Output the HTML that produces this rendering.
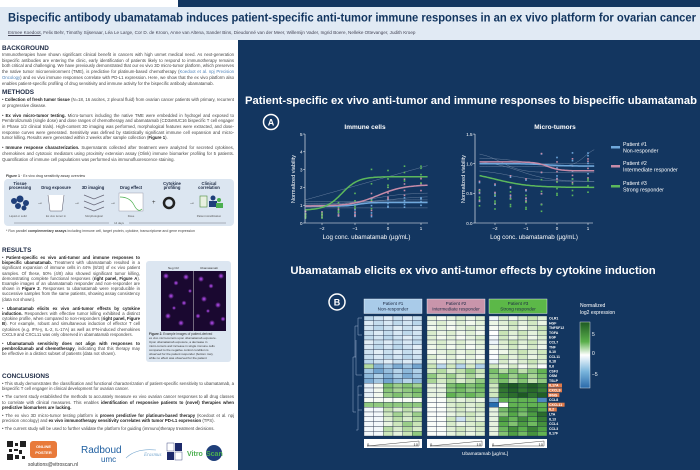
<!DOCTYPE html>
<html><head><meta charset="utf-8">
<style>
*{margin:0;padding:0;box-sizing:border-box}
body{width:700px;height:470px;overflow:hidden;background:#fff;font-family:"Liberation Sans",sans-serif;position:relative}
.abs{position:absolute}
.lt{font-size:4.3px;line-height:5.7px;color:#444;text-align:justify}
.lt b{color:#222}
.h{font-weight:bold;font-size:6.4px;color:#1d2a44}
</style></head><body>
<div class="abs" style="left:178px;top:0;width:522px;height:7px;background:#133660"></div>
<div class="abs" style="left:0;top:7px;width:700px;height:33px;background:#e1eaf4"></div>
<svg class="abs" style="left:0;top:7px" width="700" height="20"><text x="8" y="14.5" font-family="Liberation Sans" font-weight="bold" font-size="12.2" fill="#133660" textLength="688" lengthAdjust="spacingAndGlyphs">Bispecific antibody ubamatamab induces patient-specific anti-tumor immune responses in an ex vivo platform for ovarian cancer</text></svg>
<div class="abs" style="left:8px;top:30px;font-size:4.6px;color:#445;white-space:nowrap"><u>Esmee Koedoot</u>, Felix Behr, Timothy Sijsenaar, Léa Le Large, Cor D. de Kroon, Anne van Altena, Sander Bins, Dieudonné van der Meer, Willemijn Vader, Ingrid Boere, Nelleke Ottevanger, Judith Kroep</div>
<div class="abs" style="left:238px;top:40px;width:462px;height:430px;background:#133660"></div>

<!-- left column -->
<div class="abs" style="left:2px;top:45px;width:232px">
<div class="h">BACKGROUND</div>
<div class="lt">Immunotherapies have shown significant clinical benefit in cancers with high unmet medical need. As next-generation bispecific antibodies are entering the clinic, early identification of patients likely to respond to immunotherapy remains both critical and challenging. We have previously demonstrated that our ex vivo 3D micro-tumor platform, which preserves the native tumor microenvironment (TME), is predictive for platinum-based chemotherapy (<span style="color:#4a7fb5">Koedoot et al. npj Precision Oncology</span>) and ex vivo immune responses correlate with PD-L1 expression. Here, we show that the ex vivo platform also enables patient-specific profiling of drug sensitivity and immune activity for the bispecific antibody ubamatamab.</div>
<div class="h" style="margin-top:3px">METHODS</div>
<div class="lt" style="margin-top:1px">• <b>Collection of fresh tumor tissue</b> (N=18, 16 ascites, 2 pleural fluid) from ovarian cancer patients with primary, recurrent or progressive disease.</div>
<div class="lt" style="margin-top:4px">• <b>Ex vivo micro-tumor testing.</b> Micro-tumors including the native TME were embedded in hydrogel and exposed to Pembrolizumab (single dose) and dose ranges of chemotherapy and ubamatamab (CD3xMUC16 bispecific T cell engager in Phase 1/2 clinical trials). High-content 3D imaging was performed, morphological features were extracted, and dose-response curves were generated. Sensitivity was defined by statistically significant immune cell expansion and micro-tumor killing. Results were generated within 2 weeks after sample collection (<b>Figure 1</b>).</div>
<div class="lt" style="margin-top:4px">• <b>Immune response characterization.</b> Supernatants collected after treatment were analyzed for secreted cytokines, chemokines and cytotoxic mediators using proximity extension assay (Olink) immune biomarker profiling for 5 patients. Quantification of immune cell populations was performed via immunofluorescence staining.</div>
</div>
<div class="abs" style="left:6px;top:174px;font-size:3.6px;color:#333"><b>Figure 1</b> · Ex vivo drug sensitivity assay overview</div>
<div class="abs" style="left:4px;top:179px;width:230px;height:47px;background:#dce6f1;border-radius:4px"></div>
<svg class="abs" style="left:4px;top:179px" width="230" height="48">
<g font-family="Liberation Sans" font-size="4.2" font-weight="bold" fill="#1d2a44" text-anchor="middle">
<text x="16" y="6">Tissue</text><text x="16" y="10">processing</text>
<text x="52" y="10">Drug exposure</text><text x="89" y="10">3D imaging</text>
<text x="127" y="10">Drug effect</text><text x="168" y="6">Cytokine</text><text x="168" y="10">profiling</text>
<text x="205" y="6">Clinical</text><text x="205" y="10">correlation</text></g>
<g fill="#1f3f7a"><circle cx="10" cy="22" r="3"/><circle cx="16" cy="20" r="3.5"/><circle cx="22" cy="24" r="3"/><circle cx="14" cy="27" r="3"/><circle cx="20" cy="29" r="2.5"/></g>
<path d="M44 16 L46 32 L58 32 L60 16" fill="#fff" stroke="#556" stroke-width=".5"/>
<path d="M80 16 l10 4 l10 -4 M80 22 l10 4 l10 -4 M80 28 l10 4 l10 -4" stroke="#667" fill="none" stroke-width=".7"/>
<rect x="115" y="14" width="24" height="18" fill="#fff" stroke="#889" stroke-width=".4"/>
<path d="M116 18 q10 0 14 8 t8 4" stroke="#4caf50" fill="none" stroke-width=".7"/>
<circle cx="165" cy="24" r="5" fill="none" stroke="#222" stroke-width="2.5"/>
<rect x="196" y="17" width="7" height="11" fill="#e8f0e0" stroke="#4a8a3a" stroke-width=".6"/>
<circle cx="209" cy="19" r="2.5" fill="#1f3f7a"/><rect x="205" y="22" width="8" height="6" fill="#1f3f7a"/>
<circle cx="215" cy="21" r="2" fill="#4caf50"/><rect x="212" y="24" width="7" height="5" fill="#4caf50"/>
<g font-size="6" fill="#333"><text x="33" y="25">→</text><text x="70" y="25">→</text><text x="106" y="25">→</text><text x="148" y="25">+</text><text x="185" y="25">→</text></g>
<g font-family="Liberation Sans" font-size="2.8" fill="#555" text-anchor="middle"><text x="14" y="38">Liquid or solid</text><text x="52" y="38">Ex vivo tumor in</text><text x="90" y="38">Morphological</text><text x="127" y="38">Dose</text><text x="205" y="38">Patient stratification</text><text x="115" y="45">14 days</text></g>
<line x1="10" y1="44" x2="105" y2="44" stroke="#556" stroke-width=".4"/><line x1="125" y1="44" x2="222" y2="44" stroke="#556" stroke-width=".4"/>
</svg>
<div class="abs" style="left:6px;top:229px;font-size:3.5px;color:#444">* Run parallel <b>complementary assays</b> including immune cell, target protein, cytokine, transcriptome and gene expression</div>

<div class="abs" style="left:2px;top:247px;width:138px">
<div class="h">RESULTS</div>
<div class="lt" style="margin-top:1px;line-height:5.2px">• <b>Patient-specific ex vivo anti-tumor and immune responses to bispecific ubamatamab.</b> Treatment with ubamatamab resulted in a significant expansion of immune cells in 44% (8/18) of ex vivo patient samples. Of these, 50% (4/8) also showed significant tumor killing, demonstrating complete functional responses (<b>right panel, Figure A</b>). Example images of an ubamatamab responder and non-responder are shown in <b>Figure 2</b>. Responses to ubamatamab were reproducible in successive samples from the same patients, showing assay consistency (data not shown).</div>
<div class="lt" style="margin-top:4px;line-height:5.2px">• <b>Ubamatamab elicits ex vivo anti-tumor effects by cytokine induction.</b> Responders with effective tumor killing exhibited a distinct cytokine profile, when compared to non-responders (<b>right panel, Figure B</b>). For example, robust and simultaneous induction of effector T cell cytokines (e.g. IFN-γ, IL-2, IL-17A) as well as IFN-induced chemokines CXCL9 and CXCL11 was only observed in ubamatamab responders.</div>
<div class="lt" style="margin-top:4px;line-height:5.2px">• <b>Ubamatamab sensitivity does not align with responses to pembrolizumab and chemotherapy</b>, indicating that this therapy may be effective in a distinct subset of patients (data not shown).</div>
</div>
<div class="abs" style="left:146px;top:261px;width:85px;height:101px;background:#dce6f1;border-radius:3px"></div>
<svg class="abs" style="left:146px;top:261px" width="85" height="101">
<defs><radialGradient id="g"><stop offset="0" stop-color="#c050ff"/><stop offset="1" stop-color="#c050ff" stop-opacity="0"/></radialGradient></defs>
<rect x="15" y="10" width="65" height="60" fill="#1a0830"/>
<line x1="47.5" y1="10" x2="47.5" y2="70" stroke="#ccc" stroke-width=".5"/>
<g fill="url(#g)">
<circle cx="20" cy="15" r="3"/><circle cx="30" cy="22" r="2.5"/><circle cx="40" cy="16" r="3"/><circle cx="25" cy="35" r="3"/><circle cx="38" cy="42" r="2.5"/><circle cx="22" cy="55" r="3"/><circle cx="35" cy="62" r="3"/><circle cx="44" cy="30" r="2"/><circle cx="55" cy="18" r="3"/><circle cx="65" cy="25" r="2.5"/><circle cx="75" cy="15" r="3"/><circle cx="58" cy="38" r="3"/><circle cx="72" cy="44" r="3"/><circle cx="52" cy="55" r="2.5"/><circle cx="66" cy="62" r="3"/><circle cx="77" cy="58" r="2.5"/><circle cx="28" cy="47" r="2"/><circle cx="62" cy="50" r="2"/></g>
<g font-family="Liberation Sans" font-size="3" fill="#333"><text x="22" y="8">Neg Ctrl</text><text x="54" y="8">Ubamatamab</text>
<text x="3" y="74" font-size="3.2"><tspan font-weight="bold">Figure 2.</tspan> Example images of patient-derived</text>
<text x="3" y="78">ex vivo micro-tumors upon ubamatamab exposure.</text>
<text x="3" y="82">Upon ubamatamab exposure, a decrease in</text>
<text x="3" y="86">micro-tumors and increase in single immune cells</text>
<text x="3" y="90">compared to the negative control condition is</text>
<text x="3" y="94">observed for the patient responder (bottom row),</text>
<text x="3" y="98">while no effect was observed for the patient</text></g>
</svg>

<div class="abs" style="left:2px;top:373px;width:232px">
<div class="h">CONCLUSIONS</div>
<div class="lt" style="margin-top:1px;line-height:5.2px">• This study demonstrates the classification and functional characterization of patient-specific sensitivity to ubamatamab, a bispecific T cell engager in clinical development for ovarian cancer.</div>
<div class="lt" style="margin-top:3px;line-height:5.2px">• The current study established the methods to accurately measure ex vivo ovarian cancer responses to all drug classes to correlate with clinical measures. This enables <b>identification of responsive patients to (novel) therapies when predictive biomarkers are lacking.</b></div>
<div class="lt" style="margin-top:3px;line-height:5.2px">• The ex vivo 3D micro-tumor testing platform is <b>proven predictive for platinum-based therapy</b> (Koedoot et al. npj precision oncology) and <b>ex vivo immunotherapy sensitivity correlates with tumor PD-L1 expression</b> (TPS).</div>
<div class="lt" style="margin-top:3px;line-height:5.2px">• The current study will be used to further validate the platform for guiding (immuno)therapy treatment decisions.</div>
</div>
<svg class="abs" style="left:0;top:440px" width="238" height="30">
<rect x="7" y="1" width="19" height="19" fill="#fff"/>
<g fill="#222"><rect x="7" y="1" width="6" height="6"/><rect x="20" y="1" width="6" height="6"/><rect x="7" y="14" width="6" height="6"/><rect x="15" y="3" width="3" height="3"/><rect x="14" y="9" width="4" height="2"/><rect x="19" y="10" width="3" height="4"/><rect x="15" y="15" width="4" height="4"/><rect x="22" y="16" width="3" height="3"/><rect x="9" y="9" width="3" height="3"/></g>
<rect x="30" y="1" width="27" height="17" rx="3" fill="#e87a3a"/>
<text x="43.5" y="8" font-size="4" fill="#fff" font-weight="bold" text-anchor="middle" font-family="Liberation Sans">ONLINE</text>
<text x="43.5" y="14" font-size="4" fill="#fff" font-weight="bold" text-anchor="middle" font-family="Liberation Sans">POSTER</text>
<text x="28" y="26" font-size="5" fill="#333" font-family="Liberation Sans">solutions@vitroscan.nl</text>
<text x="81" y="13" font-size="10" fill="#1f5fa0" font-family="Liberation Sans">Radboud</text>
<text x="101" y="22" font-size="8" fill="#1f5fa0" font-family="Liberation Sans">umc</text>
<path d="M126 18 q10 -10 30 -8" stroke="#7aa9d0" fill="none" stroke-width=".6"/>
<text x="144" y="16" font-size="5" fill="#7aa9d0" font-style="italic" font-family="Liberation Serif">Erasmus</text>
<rect x="167" y="3" width="7" height="8" fill="#fff" stroke="#1d2a6a" stroke-width=".4"/><rect x="175" y="3" width="7" height="8" fill="#1d2a6a"/>
<rect x="167" y="12" width="7" height="8" fill="#1d2a6a"/><rect x="175" y="12" width="7" height="8" fill="#fff" stroke="#1d2a6a" stroke-width=".4"/>
<text x="187" y="16" font-size="7" font-weight="bold" fill="#4caf50" font-family="Liberation Sans">Vitro</text>
<circle cx="214" cy="13" r="8" fill="#1f3f7a"/><text x="206" y="16" font-size="7" font-weight="bold" fill="#4caf50" font-family="Liberation Sans">Scan</text>
</svg>

<!-- right panel -->
<svg id="r" class="abs" style="left:0;top:0" width="700" height="470" font-family="Liberation Sans"></svg>
<script>
const S=document.getElementById('r');let h='';
h+='<text x="245" y="104" font-size="11.3" font-weight="bold" fill="#fff" textLength="452" lengthAdjust="spacingAndGlyphs">Patient-specific ex vivo anti-tumor and immune responses to bispecific ubamatamab</text>';
h+='<circle cx="271" cy="122" r="7.5" fill="none" stroke="#fff" stroke-width="1.5"/><text x="271" y="125.5" font-size="9" font-weight="bold" fill="#fff" text-anchor="middle">A</text>';
h+='<text x="473" y="274" font-size="11.3" font-weight="bold" fill="#fff" text-anchor="middle">Ubamatamab elicits ex vivo anti-tumor effects by cytokine induction</text>';
const sig=(u,b,t,m,s)=>b+(t-b)/(1+Math.exp(-(u-m)*s));
function plot(x0,x1,xm,xs,ym,ys,ticks,tl,title,tx,curves,grays,dots){
 h+=`<text x="${tx}" y="129" font-size="6.5" font-weight="bold" fill="#fff" text-anchor="middle">${title}</text>`;
 grays.forEach(g=>{let p='';for(let u=-2.5;u<=1.21;u+=0.05){p+=(p?'L':'M')+(xm+u*xs).toFixed(1)+' '+(ym-g(u)*ys).toFixed(1)}h+=`<path d="${p}" stroke="#8a9cb8" stroke-width=".5" fill="none" opacity=".7"/>`});
 dots.forEach(([c,f])=>{for(let u=-2.5;u<=1.1;u+=0.5){for(let k=0;k<4;k++){let v=f(u)*(1+((k*37+Math.round(u*10)*13)%11-5)/22);h+=`<rect x="${(xm+u*xs-0.8).toFixed(1)}" y="${(ym-v*ys-0.8).toFixed(1)}" width="1.6" height="1.6" fill="${c}"/>`}}});
 curves.forEach(([c,f])=>{let p='';for(let u=-2.5;u<=1.21;u+=0.05){p+=(p?'L':'M')+(xm+u*xs).toFixed(1)+' '+(ym-f(u)*ys).toFixed(1)}h+=`<path d="${p}" stroke="${c}" stroke-width="1.5" fill="none"/>`});
 h+=`<path d="M${x0} 134V${ym}H${x1}" stroke="#fff" stroke-width=".6" fill="none"/>`;
 ticks.forEach(([v,l])=>{let y=ym-v*ys;h+=`<line x1="${x0-2}" x2="${x0}" y1="${y}" y2="${y}" stroke="#fff" stroke-width=".5"/><text x="${x0-2.5}" y="${y+1.8}" font-size="4.5" fill="#fff" text-anchor="end">${l}</text>`});
 [-2,-1,0,1].forEach(u=>{let x=xm+u*xs;h+=`<line x1="${x}" x2="${x}" y1="${ym}" y2="${ym+2}" stroke="#fff" stroke-width=".5"/><text x="${x}" y="${ym+7}" font-size="4.5" fill="#fff" text-anchor="middle">${u<0?'−'+(-u):u}</text>`});
 h+=`<text x="${(x0+x1)/2}" y="239" font-size="6.2" fill="#fff" text-anchor="middle">Log conc. ubamatamab (µg/mL)</text>`;
 h+=`<text transform="translate(${x0-10},179) rotate(-90)" font-size="5.6" fill="#fff" text-anchor="middle">Normalized viability</text>`;
}
plot(305,428,388,33,223,17.8,[[0,0],[1,1],[2,2],[3,3],[4,4],[5,5]],0,'Immune cells',365,
 [['#6fa8dc',u=>sig(u,0.95,1.15,-0.9,6)],['#c78ba8',u=>sig(u,0.95,2.15,-0.3,2.5)],['#5cb85c',u=>sig(u,0.72,2.6,-1.4,4)]],
 [u=>2.6+u*0.52,u=>sig(u,1,1.7,-0.5,2),u=>sig(u,1.1,1.5,0,2),u=>1.2,u=>0.85,u=>sig(u,0.9,1.3,-1,3)],
 [['#6fa8dc',u=>sig(u,0.95,1.15,-0.9,6)],['#c78ba8',u=>sig(u,0.95,2.15,-0.3,2.5)],['#5cb85c',u=>sig(u,0.72,2.6,-1.4,4)]]);
plot(475,593,557,31,223,59.3,[[0,'0.0'],[0.5,'0.5'],[1,'1.0'],[1.5,'1.5']],0,'Micro-tumors',555,
 [['#6fa8dc',u=>sig(u,1.0,0.96,-0.3,3)],['#c78ba8',u=>sig(u,1.03,0.88,-0.3,5)],['#5cb85c',u=>sig(u,0.88,0.6,-2,1.8)]],
 [u=>sig(u,1.1,0.95,-1,2),u=>sig(u,1.05,0.7,-1.2,2),u=>sig(u,0.95,1.3,0.9,5),u=>sig(u,1.2,0.85,-1.8,3),u=>1.0,u=>sig(u,0.9,0.7,-1.5,2)],
 [['#6fa8dc',u=>sig(u,1.0,0.96,-0.3,3)],['#c78ba8',u=>sig(u,1.03,0.88,-0.3,5)],['#5cb85c',u=>sig(u,0.88,0.6,-2,1.8)]]);
[['#6fa8dc','Patient #1','Non-responder',147],['#c78ba8','Patient #2','Intermediate responder',166],['#5cb85c','Patient #3','Strong responder',186]].forEach(([c,a,b,y])=>{
 h+=`<rect x="611" y="${y-1}" width="9" height="2.5" fill="${c}"/><text x="623" y="${y-1}" font-size="5.3" fill="#fff">${a}</text><text x="623" y="${y+5.5}" font-size="5.3" fill="#fff">${b}</text>`});
h+='<circle cx="337" cy="302" r="8" fill="none" stroke="#fff" stroke-width="1.5"/><text x="337" y="305.5" font-size="9" font-weight="bold" fill="#fff" text-anchor="middle">B</text>';
const genes=['OLR1','HGF','TNFSF12','TGFA','EGF','CCL7','TNF','IL10','CCL11','IL18','IL6','CSF3','OSM','TSLP','IL17A','CXCL9','IFNG','CCL8','CXCL11','IL2','LTA','IL13','CCL4','CCL3','IL17F'];
const hl=[14,15,16,18,19];
function col(v){v=Math.max(-7,Math.min(7,v));let a,b,t;
 const neg=[[255,255,255],[170,205,230],[40,110,175]],pos=[[255,255,255],[200,228,180],[90,175,75],[30,90,35]];
 if(v<0){let s=-v/7*2;let i=Math.min(1,Math.floor(s));t=s-i;a=neg[i];b=neg[i+1]}else{let s=v/7*3;let i=Math.min(2,Math.floor(s));t=s-i;a=pos[i];b=pos[i+1]}
 return `rgb(${a.map((x,k)=>Math.round(x+(b[k]-x)*t)).join(',')})`}
function val(p,r,c){const n=((r*7+c*13+p*5)%9-4)/4;
 if(p==0){if(r<10)return -2+n*0.8;if(r<14)return -4+n+(r==10&&c==0?6:0);if(r<17)return c==0?-1:c==1?0.5:3.5+n*0.5;if(r==17)return 0.3;if(r==18)return 3.5;return c<2?-0.5:1.5+n+c*0.2}
 if(p==1){if(r<10)return 1+n*0.6;if(r<14)return 2.5+n+(r==10&&c%2==1?-6:0);if(r<17)return c<2?1:4+n*0.5;if(r==21&&c==3)return -2;return c<2?0.2:1.5+n*0.6}
 if(r<10)return 1.5+n*0.8+(c==0?-1.5:0);if(r<14)return 3.5+n+(r==10?-2.5:0);if(r<17)return c==0?2:6.5+n*0.5;if(r==17)return c==0?-4:c==5?-6:4.5;if(r==18)return c==0?-7:c==1?0:4.5;return c==0?1:4+n+c*0.3}
const px=[364,427,489],W=58,rh=4.8,y0=316;
const hdr=[['#a9cbe9','Patient #1','Non-responder'],['#c995ab','Patient #2','Intermediate responder'],['#5cb848','Patient #3','Strong responder']];
for(let p=0;p<3;p++){let x=px[p];
 h+=`<rect x="${x}" y="299" width="${W}" height="14.5" fill="${hdr[p][0]}" stroke="#fff" stroke-width=".4"/><text x="${x+W/2}" y="305" font-size="4.6" fill="#1d2a44" text-anchor="middle">${hdr[p][1]}</text><text x="${x+W/2}" y="310.7" font-size="4.6" fill="#1d2a44" text-anchor="middle">${hdr[p][2]}</text>`;
 for(let r=0;r<25;r++)for(let c=0;c<6;c++)h+=`<rect x="${(x+c*W/6).toFixed(1)}" y="${(y0+r*rh).toFixed(1)}" width="${(W/6).toFixed(1)}" height="${rh}" fill="${col(val(p,r,c))}" stroke="#1d2a44" stroke-width=".35"/>`;
 h+=`<rect x="${x}" y="439" width="${W}" height="9" fill="#fff"/><path d="M${x+3} 446 L${x+W-3} 446 L${x+W-3} 441Z" fill="#fff" stroke="#222" stroke-width=".4"/><text x="${x+3}" y="446" font-size="4" fill="#222">0</text><text x="${x+W-4}" y="446" font-size="4" fill="#222" text-anchor="end">10</text>`}
genes.forEach((g,r)=>{let y=y0+r*rh+3.5;if(hl.includes(r))h+=`<rect x="548" y="${y-3.2}" width="${g.length*2.6+1}" height="4" fill="#e07a4a"/>`;h+=`<text x="549" y="${y}" font-size="3.5" font-weight="bold" fill="#fff">${g}</text>`});
h+='<path d="M362 318H358V335H362M358 326H355V357H356M356 340V375H362M362 386H358V430H356M358 395H362M358 410H362M355 357H353V412H356" stroke="#9aaccc" stroke-width=".5" fill="none"/>';
h+='<text x="485" y="455" font-size="4.8" fill="#fff" text-anchor="middle">Ubamatamab [µg/mL]</text>';
h+='<defs><linearGradient id="cb" x1="0" y1="0" x2="0" y2="1"><stop offset="0" stop-color="#1e5a23"/><stop offset=".3" stop-color="#5aaf4b"/><stop offset=".5" stop-color="#fff"/><stop offset=".75" stop-color="#7ab5dc"/><stop offset="1" stop-color="#2a6aaa"/></linearGradient></defs>';
h+='<rect x="580" y="322" width="10" height="66" fill="url(#cb)" stroke="#fff" stroke-width=".4"/>';
h+='<text x="580" y="307" font-size="5" fill="#fff">Normalized</text><text x="580" y="314" font-size="5" fill="#fff">log2 expression</text>';
h+='<text x="592" y="336" font-size="5" fill="#fff">5</text><text x="592" y="355" font-size="5" fill="#fff">0</text><text x="592" y="376" font-size="5" fill="#fff">−5</text>';
S.innerHTML=h;
</script>
</body></html>
